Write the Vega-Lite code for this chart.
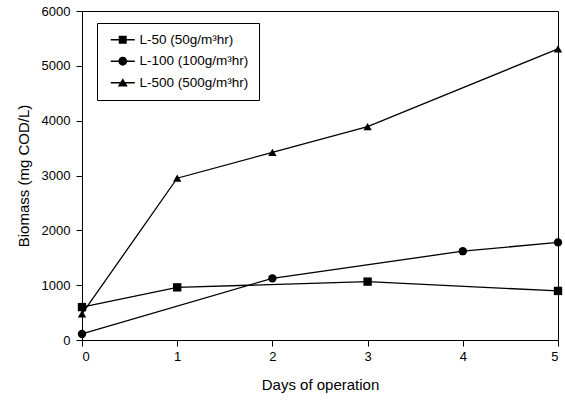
{
  "$schema": "https://vega.github.io/schema/vega-lite/v6.json",
  "width": 476,
  "height": 329,
  "autosize": {"type": "none"},
  "padding": {"left": 82, "top": 11, "right": 7, "bottom": 61},
  "background": "white",
  "config": {
    "font": "Liberation Sans",
    "view": {"stroke": "black", "strokeWidth": 1},
    "axis": {"grid": false, "domainColor": "black", "tickColor": "black", "labelColor": "black", "titleColor": "black", "labelFontSize": 13, "titleFontSize": 15, "titleFontWeight": "normal", "tickSize": 6, "labelFont": "Liberation Sans", "titleFont": "Liberation Sans"}
  },
  "data": {
    "values": [
      {"series": "L-50 (50g/m³hr)", "day": 0, "biomass": 600},
      {"series": "L-50 (50g/m³hr)", "day": 1, "biomass": 960},
      {"series": "L-50 (50g/m³hr)", "day": 3, "biomass": 1065},
      {"series": "L-50 (50g/m³hr)", "day": 5, "biomass": 895},
      {"series": "L-100 (100g/m³hr)", "day": 0, "biomass": 110},
      {"series": "L-100 (100g/m³hr)", "day": 2, "biomass": 1125},
      {"series": "L-100 (100g/m³hr)", "day": 4, "biomass": 1620},
      {"series": "L-100 (100g/m³hr)", "day": 5, "biomass": 1780},
      {"series": "L-500 (500g/m³hr)", "day": 0, "biomass": 475},
      {"series": "L-500 (500g/m³hr)", "day": 1, "biomass": 2950},
      {"series": "L-500 (500g/m³hr)", "day": 2, "biomass": 3420},
      {"series": "L-500 (500g/m³hr)", "day": 3, "biomass": 3890},
      {"series": "L-500 (500g/m³hr)", "day": 5, "biomass": 5310}
    ]
  },
  "encoding": {
    "x": {"field": "day", "type": "quantitative", "scale": {"domain": [0, 5], "nice": false}, "axis": {"title": "Days of operation", "values": [0, 1, 2, 3, 4, 5], "format": "d", "labelPadding": 4, "titlePadding": 14}},
    "y": {"field": "biomass", "type": "quantitative", "scale": {"domain": [0, 6000], "nice": false}, "axis": {"title": "Biomass (mg COD/L)", "values": [0, 1000, 2000, 3000, 4000, 5000, 6000], "format": "d", "labelPadding": 6, "titlePadding": 10}}
  },
  "layer": [
    {
      "mark": {"type": "line", "color": "black", "strokeWidth": 1.3},
      "encoding": {"detail": {"field": "series"}}
    },
    {
      "mark": {"type": "point", "filled": true, "color": "black", "opacity": 1},
      "encoding": {
        "shape": {
          "field": "series", "type": "nominal",
          "scale": {"domain": ["L-50 (50g/m³hr)", "L-100 (100g/m³hr)", "L-500 (500g/m³hr)"], "range": ["square", "circle", "triangle-up"]},
          "legend": null
        },
        "size": {"value": 70}
      }
    },
    {
      "mark": {"type": "point", "filled": true, "color": "black", "opacity": 0},
      "encoding": {
        "shape": {
          "field": "series", "type": "nominal",
          "scale": {"domain": ["L-50 (50g/m³hr)", "L-100 (100g/m³hr)", "L-500 (500g/m³hr)"], "range": ["M-3,-0.16H3V0.16H-3ZM-1,-1H1V1H-1Z", "M-3,-0.16H3V0.16H-3ZM1.1,0A1.1,1.1,0,1,1,-1.1,0A1.1,1.1,0,1,1,1.1,0Z", "M-3,-0.16H3V0.16H-3ZM0,-1.15L1.25,0.95L-1.25,0.95Z"]},
          "legend": {
            "title": null,
            "orient": "none",
            "legendX": 15,
            "legendY": 12,
            "strokeColor": "black",
            "padding": 10,
            "labelFontSize": 13.5,
            "labelColor": "black",
            "symbolSize": 64,
            "symbolOpacity": 1,
            "symbolFillColor": "black",
            "symbolStrokeWidth": 0,
            "symbolOffset": 9,
            "labelOffset": 10,
            "rowPadding": 6.5
          }
        }
      }
    }
  ],
  "resolve": {"scale": {"shape": "independent"}, "legend": {"shape": "independent"}}
}
